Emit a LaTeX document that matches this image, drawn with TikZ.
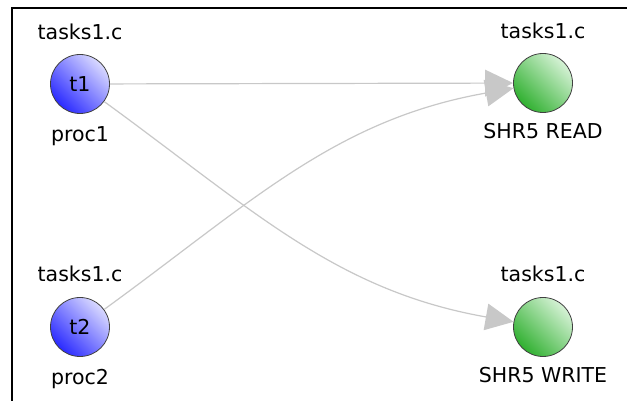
\documentclass[tikz,border=0pt]{standalone}
\usepackage{fontspec}
\setmainfont{DejaVu Sans}
\usetikzlibrary{arrows.meta,positioning}

\definecolor{edgegray}{HTML}{C8C8C8}
\definecolor{taskdark}{HTML}{2A2AFF}
\definecolor{tasklight}{HTML}{DADAFF}
\definecolor{resdark}{HTML}{30B030}
\definecolor{reslight}{HTML}{D6F2D6}

\begin{document}
\begin{tikzpicture}[x=1pt,y=1pt,
  every node/.style={font=\fontsize{20.5}{22}\selectfont},
  task/.style={circle,draw=black!75,line width=0.8pt,minimum size=59pt,inner sep=0pt,
    top color=tasklight,bottom color=taskdark,shading angle=-45},
  res/.style={circle,draw=black!75,line width=0.8pt,minimum size=59pt,inner sep=0pt,
    top color=reslight,bottom color=resdark,shading angle=-45},
  lbl/.style={inner sep=0pt},
  edge/.style={draw=edgegray,line width=1.2pt,
    -{Triangle[length=28pt,width=27pt,fill=edgegray,line width=0pt]}}]
  \useasboundingbox (0,0) rectangle (627,401);
  \fill[white] (0,0) rectangle (627,401);
  \draw[line width=1.5pt] (12,-10) |- (640,393);
  % threads
  \node[task] (t1) at (80,317) {t1};
  \node[lbl,above=14pt of t1] (t1file) {tasks1.c};
  \node[lbl,below=12pt of t1] (t1proc) {proc1};
  \node[task] (t2) at (80,74) {t2};
  \node[lbl,above=15pt of t2] (t2file) {tasks1.c};
  \node[lbl,below=12pt of t2] (t2proc) {proc2};
  % shared resources
  \node[res] (rd) at (543,318) {};
  \node[lbl,above=14pt of rd] (rdfile) {tasks1.c};
  \node[lbl,below=10pt of rd] (rdname) {SHR5 READ};
  \node[res] (wr) at (543,74) {};
  \node[lbl,above=15pt of wr] (wrfile) {tasks1.c};
  \node[lbl,below=10pt of wr] (wrname) {SHR5 WRITE};
  % accesses
  \draw[edge] (t1) -- (rd);
  \draw[edge] (t1) to[out=-36,in=170] (wr);
  \draw[edge] (t2) to[out=36,in=190] (rd);
\end{tikzpicture}
\end{document}
